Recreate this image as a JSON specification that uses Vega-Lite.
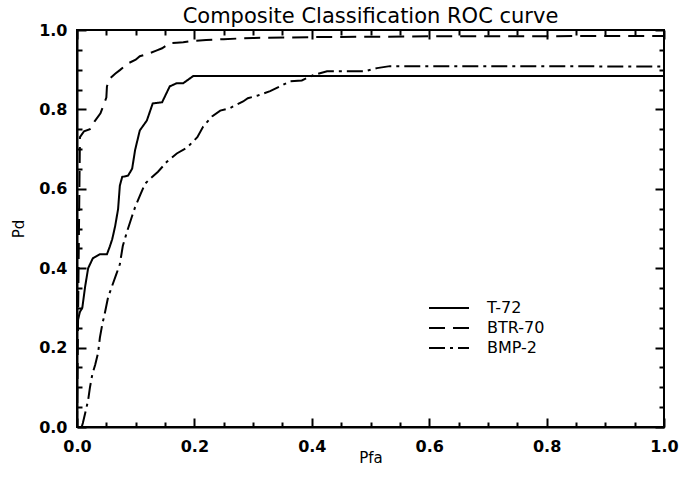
{
  "$schema": "https://vega.github.io/schema/vega-lite/v6.json",
  "autosize": {"type": "none"},
  "width": 587,
  "height": 397,
  "padding": {"left": 77, "top": 30, "right": 15, "bottom": 50},
  "background": "white",
  "title": {"text": "Composite Classification ROC curve", "font": "DejaVu Sans", "fontSize": 21, "fontWeight": "normal", "color": "black", "offset": -5, "anchor": "middle"},
  "config": {
    "view": {"stroke": "black", "strokeWidth": 2},
    "axis": {"grid": false, "domainColor": "black", "domainWidth": 2, "tickColor": "black", "tickWidth": 2, "labelColor": "black", "titleColor": "black", "labelFont": "DejaVu Sans", "labelFontSize": 16, "labelFontWeight": "bold", "titleFont": "DejaVu Sans", "titleFontSize": 15, "titleFontWeight": "normal"}
  },
  "data": {"values": [
    {"s":"T-72","i":1,"x":0,"y":0},{"s":"T-72","i":2,"x":0,"y":0.26},{"s":"T-72","i":3,"x":0.005,"y":0.29},{"s":"T-72","i":4,"x":0.009,"y":0.3},{"s":"T-72","i":5,"x":0.014,"y":0.355},{"s":"T-72","i":6,"x":0.019,"y":0.4},{"s":"T-72","i":7,"x":0.027,"y":0.425},{"s":"T-72","i":8,"x":0.039,"y":0.435},{"s":"T-72","i":9,"x":0.051,"y":0.435},{"s":"T-72","i":10,"x":0.056,"y":0.455},{"s":"T-72","i":11,"x":0.06,"y":0.473},{"s":"T-72","i":12,"x":0.065,"y":0.506},{"s":"T-72","i":13,"x":0.07,"y":0.549},{"s":"T-72","i":14,"x":0.073,"y":0.608},{"s":"T-72","i":15,"x":0.077,"y":0.63},{"s":"T-72","i":16,"x":0.087,"y":0.633},{"s":"T-72","i":17,"x":0.094,"y":0.651},{"s":"T-72","i":18,"x":0.099,"y":0.698},{"s":"T-72","i":19,"x":0.107,"y":0.747},{"s":"T-72","i":20,"x":0.119,"y":0.772},{"s":"T-72","i":21,"x":0.129,"y":0.815},{"s":"T-72","i":22,"x":0.145,"y":0.818},{"s":"T-72","i":23,"x":0.158,"y":0.858},{"s":"T-72","i":24,"x":0.17,"y":0.866},{"s":"T-72","i":25,"x":0.181,"y":0.866},{"s":"T-72","i":26,"x":0.198,"y":0.884},{"s":"T-72","i":27,"x":1.0,"y":0.884},
    {"s":"BTR-70","i":1,"x":0,"y":0},{"s":"BTR-70","i":2,"x":0.003,"y":0.45},{"s":"BTR-70","i":3,"x":0.005,"y":0.73},{"s":"BTR-70","i":4,"x":0.012,"y":0.745},{"s":"BTR-70","i":5,"x":0.022,"y":0.75},{"s":"BTR-70","i":6,"x":0.03,"y":0.77},{"s":"BTR-70","i":7,"x":0.04,"y":0.79},{"s":"BTR-70","i":8,"x":0.045,"y":0.81},{"s":"BTR-70","i":9,"x":0.05,"y":0.83},{"s":"BTR-70","i":10,"x":0.051,"y":0.858},{"s":"BTR-70","i":11,"x":0.056,"y":0.878},{"s":"BTR-70","i":12,"x":0.065,"y":0.89},{"s":"BTR-70","i":13,"x":0.073,"y":0.899},{"s":"BTR-70","i":14,"x":0.087,"y":0.916},{"s":"BTR-70","i":15,"x":0.1,"y":0.925},{"s":"BTR-70","i":16,"x":0.107,"y":0.934},{"s":"BTR-70","i":17,"x":0.121,"y":0.94},{"s":"BTR-70","i":18,"x":0.135,"y":0.948},{"s":"BTR-70","i":19,"x":0.145,"y":0.954},{"s":"BTR-70","i":20,"x":0.158,"y":0.967},{"s":"BTR-70","i":21,"x":0.17,"y":0.968},{"s":"BTR-70","i":22,"x":0.181,"y":0.969},{"s":"BTR-70","i":23,"x":0.193,"y":0.972},{"s":"BTR-70","i":24,"x":0.22,"y":0.975},{"s":"BTR-70","i":25,"x":0.25,"y":0.977},{"s":"BTR-70","i":26,"x":0.3,"y":0.98},{"s":"BTR-70","i":27,"x":0.4,"y":0.982},{"s":"BTR-70","i":28,"x":0.6,"y":0.984},{"s":"BTR-70","i":29,"x":1.0,"y":0.985},
    {"s":"BMP-2","i":1,"x":0.008,"y":0.0},{"s":"BMP-2","i":2,"x":0.01,"y":0.01},{"s":"BMP-2","i":3,"x":0.014,"y":0.035},{"s":"BMP-2","i":4,"x":0.019,"y":0.068},{"s":"BMP-2","i":5,"x":0.022,"y":0.099},{"s":"BMP-2","i":6,"x":0.026,"y":0.132},{"s":"BMP-2","i":7,"x":0.031,"y":0.157},{"s":"BMP-2","i":8,"x":0.036,"y":0.187},{"s":"BMP-2","i":9,"x":0.039,"y":0.225},{"s":"BMP-2","i":10,"x":0.043,"y":0.258},{"s":"BMP-2","i":11,"x":0.048,"y":0.291},{"s":"BMP-2","i":12,"x":0.053,"y":0.327},{"s":"BMP-2","i":13,"x":0.06,"y":0.356},{"s":"BMP-2","i":14,"x":0.067,"y":0.385},{"s":"BMP-2","i":15,"x":0.073,"y":0.41},{"s":"BMP-2","i":16,"x":0.078,"y":0.456},{"s":"BMP-2","i":17,"x":0.085,"y":0.491},{"s":"BMP-2","i":18,"x":0.094,"y":0.532},{"s":"BMP-2","i":19,"x":0.099,"y":0.554},{"s":"BMP-2","i":20,"x":0.107,"y":0.582},{"s":"BMP-2","i":21,"x":0.116,"y":0.613},{"s":"BMP-2","i":22,"x":0.128,"y":0.63},{"s":"BMP-2","i":23,"x":0.138,"y":0.643},{"s":"BMP-2","i":24,"x":0.153,"y":0.668},{"s":"BMP-2","i":25,"x":0.17,"y":0.689},{"s":"BMP-2","i":26,"x":0.187,"y":0.703},{"s":"BMP-2","i":27,"x":0.205,"y":0.73},{"s":"BMP-2","i":28,"x":0.215,"y":0.757},{"s":"BMP-2","i":29,"x":0.23,"y":0.782},{"s":"BMP-2","i":30,"x":0.244,"y":0.797},{"s":"BMP-2","i":31,"x":0.26,"y":0.803},{"s":"BMP-2","i":32,"x":0.283,"y":0.82},{"s":"BMP-2","i":33,"x":0.291,"y":0.828},{"s":"BMP-2","i":34,"x":0.308,"y":0.835},{"s":"BMP-2","i":35,"x":0.329,"y":0.846},{"s":"BMP-2","i":36,"x":0.346,"y":0.858},{"s":"BMP-2","i":37,"x":0.363,"y":0.871},{"s":"BMP-2","i":38,"x":0.383,"y":0.873},{"s":"BMP-2","i":39,"x":0.402,"y":0.886},{"s":"BMP-2","i":40,"x":0.426,"y":0.896},{"s":"BMP-2","i":41,"x":0.49,"y":0.896},{"s":"BMP-2","i":42,"x":0.511,"y":0.904},{"s":"BMP-2","i":43,"x":0.533,"y":0.909},{"s":"BMP-2","i":44,"x":0.7,"y":0.909},{"s":"BMP-2","i":45,"x":1.0,"y":0.908}
  ]},
  "layer": [
    {
      "mark": {"type": "line", "color": "black", "strokeWidth": 2, "clip": true},
      "encoding": {
        "x": {"field": "x", "type": "quantitative", "scale": {"domain": [0, 1], "nice": false, "zero": false},
          "axis": {"orient": "bottom", "title": "Pfa", "titlePadding": -8, "values": [0,0.05,0.1,0.15,0.2,0.25,0.3,0.35,0.4,0.45,0.5,0.55,0.6,0.65,0.7,0.75,0.8,0.85,0.9,0.95,1.0],
            "labelExpr": "abs(datum.value*5 - round(datum.value*5)) < 0.001 ? format(datum.value, '.1f') : ''",
            "tickSize": {"condition": {"test": "abs(datum.value*5 - round(datum.value*5)) < 0.001", "value": -9}, "value": -5},
            "labelPadding": 20, "labelFlush": false, "labelOverlap": false}},
        "y": {"field": "y", "type": "quantitative", "scale": {"domain": [0, 1], "nice": false, "zero": false},
          "axis": {"orient": "left", "title": "Pd", "titlePadding": 12, "values": [0,0.05,0.1,0.15,0.2,0.25,0.3,0.35,0.4,0.45,0.5,0.55,0.6,0.65,0.7,0.75,0.8,0.85,0.9,0.95,1.0],
            "labelExpr": "abs(datum.value*5 - round(datum.value*5)) < 0.001 ? format(datum.value, '.1f') : ''",
            "tickSize": {"condition": {"test": "abs(datum.value*5 - round(datum.value*5)) < 0.001", "value": -9}, "value": -5},
            "labelPadding": 19, "labelFlush": false, "labelOverlap": false}},
        "strokeDash": {"field": "s", "type": "nominal",
          "scale": {"domain": ["T-72", "BTR-70", "BMP-2"], "range": [[1, 0], [16, 8], [16, 5, 3, 5]]},
          "legend": {"title": null, "orient": "none", "legendX": 351, "legendY": 268, "symbolType": "stroke", "symbolSize": 1600, "symbolStrokeWidth": 2, "symbolStrokeColor": "black", "labelFont": "DejaVu Sans", "labelFontSize": 16, "labelColor": "black", "labelOffset": 17, "rowPadding": 0, "clipHeight": 20, "symbolOffset": 0}},
        "order": {"field": "i", "type": "quantitative"}
      }
    },
    {
      "mark": {"type": "point", "opacity": 0},
      "encoding": {
        "x": {"field": "x", "type": "quantitative",
          "axis": {"orient": "top", "title": null, "labels": false, "domain": false, "values": [0,0.05,0.1,0.15,0.2,0.25,0.3,0.35,0.4,0.45,0.5,0.55,0.6,0.65,0.7,0.75,0.8,0.85,0.9,0.95,1.0],
            "tickSize": {"condition": {"test": "abs(datum.value*5 - round(datum.value*5)) < 0.001", "value": -9}, "value": -5}}},
        "y": {"field": "y", "type": "quantitative",
          "axis": {"orient": "right", "title": null, "labels": false, "domain": false, "values": [0,0.05,0.1,0.15,0.2,0.25,0.3,0.35,0.4,0.45,0.5,0.55,0.6,0.65,0.7,0.75,0.8,0.85,0.9,0.95,1.0],
            "tickSize": {"condition": {"test": "abs(datum.value*5 - round(datum.value*5)) < 0.001", "value": -9}, "value": -5}}}
      }
    }
  ],
  "resolve": {"axis": {"x": "independent", "y": "independent"}}
}
